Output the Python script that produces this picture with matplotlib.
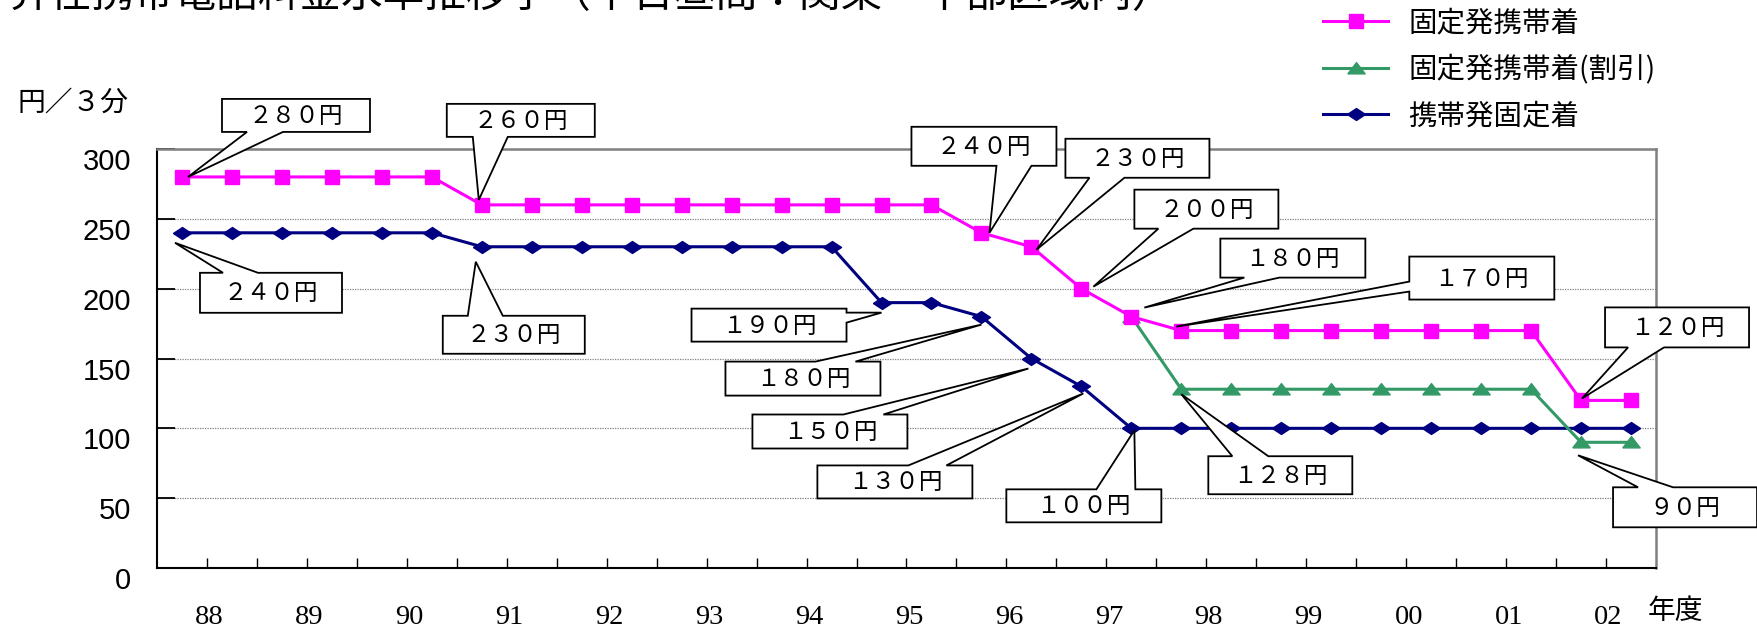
import matplotlib
matplotlib.use("Agg")
import matplotlib.pyplot as plt
import matplotlib.transforms as mtransforms
from matplotlib.patches import Polygon
from matplotlib.lines import Line2D
import numpy as np

CJK = ["Noto Sans CJK JP", "DejaVu Sans"]
plt.rcParams["font.family"] = CJK

# ---- data: half-year periods, FY1988 - FY2002 (yen per 3 minutes) ----
periods = np.arange(30)
year_labels = ["88", "89", "90", "91", "92", "93", "94", "95",
               "96", "97", "98", "99", "00", "01", "02"]

fixed_to_mobile = [280, 280, 280, 280, 280, 280,
                   260, 260, 260, 260, 260, 260, 260, 260, 260, 260,
                   240, 230, 200, 180,
                   170, 170, 170, 170, 170, 170, 170, 170,
                   120, 120]
fixed_to_mobile_disc = [None, None, None, None, None, None,
                        None, None, None, None, None, None, None, None, None, None,
                        None, None, None, 180,
                        128, 128, 128, 128, 128, 128, 128, 128,
                        90, 90]
mobile_to_fixed = [240, 240, 240, 240, 240, 240,
                   230, 230, 230, 230, 230, 230, 230, 230,
                   190, 190, 180, 150, 130,
                   100, 100, 100, 100, 100, 100, 100, 100, 100, 100, 100]

series_names = ["固定発携帯着", "固定発携帯着(割引)", "携帯発固定着"]
series_colors = ["#FF00FF", "#339966", "#000080"]

title = "昇任携帯電話料金水準推移予（平日昼間：関東－中部区域内）"
y_unit = "円／３分"
x_unit = "年度"

series = {
    "f2m": fixed_to_mobile,
    "disc": [np.nan if v is None else v for v in fixed_to_mobile_disc],
    "m2f": mobile_to_fixed,
}

# callouts: (series, period, box left, box top, width, height,
#            notch side, notch start, notch end, tip dx, tip dy)   -- pixels, y down
callouts = [
    ("f2m", 0, 40, -78, 148, 33, "bottom", 25, 61, 6, 0),
    ("m2f", 0, 18, 40, 142, 40, "top", 23, 58, -7, 10),
    ("f2m", 6, -35, -101, 148, 33, "bottom", 26, 61, -3, -5),
    ("m2f", 6, -39, 69, 142, 38, "top", 25, 60, -6, 15),
    ("m2f", 14, -190, 6, 155, 33, "right", 4, 14, 0, 10),
    ("m2f", 16, -256, 45, 155, 34, "top", 90, 130, 0, 8),
    ("m2f", 17, -279, 56, 155, 34, "top", 91, 131, -3, 10),
    ("m2f", 18, -264, 79, 155, 33, "top", 91, 129, 2, 7),
    ("m2f", 19, -125, 61, 155, 33, "top", 90, 129, 3, 2),
    ("f2m", 16, -70, -106, 145, 39, "bottom", 85, 120, 8, 0),
    ("f2m", 17, 34, -108, 144, 39, "bottom", 24, 59, 5, 3),
    ("f2m", 18, 53, -99, 144, 39, "bottom", 24, 59, 12, -2),
    ("f2m", 19, 89, -78, 145, 39, "bottom", 24, 59, 13, -9),
    ("f2m", 20, 228, -74, 145, 43, "left", 25, 35, -5, -4),
    ("disc", 20, 27, 67, 144, 38, "top", 24, 60, 0, 5),
    ("f2m", 28, 24, -93, 144, 40, "bottom", 23, 59, 1, -2),
    ("disc", 28, 32, 45, 144, 40, "top", 25, 60, -3, 13),
]

FULLWIDTH = str.maketrans("0123456789", "０１２３４５６７８９")

DPI = 100
fig = plt.figure(figsize=(17.58, 6.29), dpi=DPI)
W, H = 1758, 629
ax_left, ax_right, ax_top, ax_bottom = 157, 1656, 149, 568
ax = fig.add_axes([ax_left / W, 1 - ax_bottom / H,
                   (ax_right - ax_left) / W, (ax_bottom - ax_top) / H])

diamond = [(-1, 0), (0, 0.66), (1, 0), (0, -0.66), (-1, 0)]
triangle = [(-1, -0.62), (0, 0.68), (1, -0.62), (-1, -0.62)]

ax.plot(periods, series["m2f"], color=series_colors[2], lw=2.2,
        marker=diamond, ms=13, mec=series_colors[2], zorder=3)
ax.plot(periods, series["disc"], color=series_colors[1], lw=2.2,
        marker=triangle, ms=12.5, mec=series_colors[1], zorder=3.5)
ax.plot(periods, series["f2m"], color=series_colors[0], lw=2.2,
        marker="s", ms=10.5, mec=series_colors[0], zorder=4)

ax.set_xlim(-0.5, 29.5)
ax.set_ylim(0, 300)

# y axis
ax.set_yticks([0, 50, 100, 150, 200, 250, 300])
ax.tick_params(axis="y", direction="in", length=13, width=1.3, color="black",
               pad=18.5, labelsize=21)
for lab in ax.get_yticklabels():
    lab.set_fontfamily("Liberation Sans")
    lab.set_transform(lab.get_transform() +
                      mtransforms.ScaledTranslation(0, -10 / DPI, fig.dpi_scale_trans))
ax.yaxis.grid(True, linestyle=(0, (1, 1)), color="#808080", lw=0.9)
ax.set_axisbelow(True)

# x axis: tick marks between half-year periods, year labels between pairs
ax.set_xticks(np.arange(len(year_labels)) * 2 + 0.55)
ax.set_xticklabels(year_labels, fontfamily="Liberation Serif", fontsize=20.5)
ax.set_xticks(np.arange(0.5, 29, 1.0), minor=True)
ax.tick_params(axis="x", which="major", length=0, pad=27)
ax.tick_params(axis="x", which="minor", direction="in", length=7, width=1,
               color="black")

for side in ("left", "bottom"):
    ax.spines[side].set_color("black")
    ax.spines[side].set_linewidth(1.5)
for side in ("top", "right"):
    ax.spines[side].set_color("#808080")
    ax.spines[side].set_linewidth(1.8)


def callout_vertices(left, top, w, h, side, n1, n2, tx, ty):
    L, R, T, B = left, left + w, top, top + h
    pts = [(L, T)]
    if side == "top":
        pts += [(L + n1, T), (tx, ty), (L + n2, T)]
    pts.append((R, T))
    if side == "right":
        pts += [(R, T + n1), (tx, ty), (R, T + n2)]
    pts.append((R, B))
    if side == "bottom":
        pts += [(L + n2, B), (tx, ty), (L + n1, B)]
    pts.append((L, B))
    if side == "left":
        pts += [(L, T + n2), (tx, ty), (L, T + n1)]
    return [(x / DPI, -y / DPI) for x, y in pts]


for key, idx, left, top, w, h, side, n1, n2, tdx, tdy in callouts:
    value = series[key][idx]
    trans = fig.dpi_scale_trans + mtransforms.ScaledTranslation(
        periods[idx], value, ax.transData)
    verts = callout_vertices(left, top, w, h, side, n1, n2, tdx, tdy)
    poly = Polygon(verts, closed=True, facecolor="white", edgecolor="black",
                   lw=1.3, transform=trans, clip_on=False, zorder=6)
    ax.add_artist(poly)
    label = f"{int(value)}円".translate(FULLWIDTH)
    ax.text((left + w / 2) / DPI, -(top + h / 2 + 1) / DPI, label,
            transform=trans, ha="center", va="center", fontsize=17,
            family=CJK, clip_on=False, zorder=7)

# legend
handles = [
    Line2D([], [], color=series_colors[0], lw=2.2, marker="s", ms=10.5),
    Line2D([], [], color=series_colors[1], lw=2.2, marker=triangle, ms=12.5),
    Line2D([], [], color=series_colors[2], lw=2.2, marker=diamond, ms=13),
]
fig.legend(handles, series_names, loc="upper left",
           bbox_to_anchor=(1323 / W, 1 - 8 / H), frameon=False,
           fontsize=20.5, handlelength=2.3, handletextpad=0.7,
           labelspacing=0.58, borderpad=0, borderaxespad=0, numpoints=1)

# title (top of figure), units
fig.text(8 / W, 1 - 7 / H, title, fontsize=30, ha="left", va="baseline")
fig.text(17 / W, 1 - 103 / H, y_unit, fontsize=20, ha="left", va="center")
fig.text(1648 / W, 1 - 611 / H, x_unit, fontsize=20, ha="left", va="center")

fig.savefig("out.png", dpi=DPI)
